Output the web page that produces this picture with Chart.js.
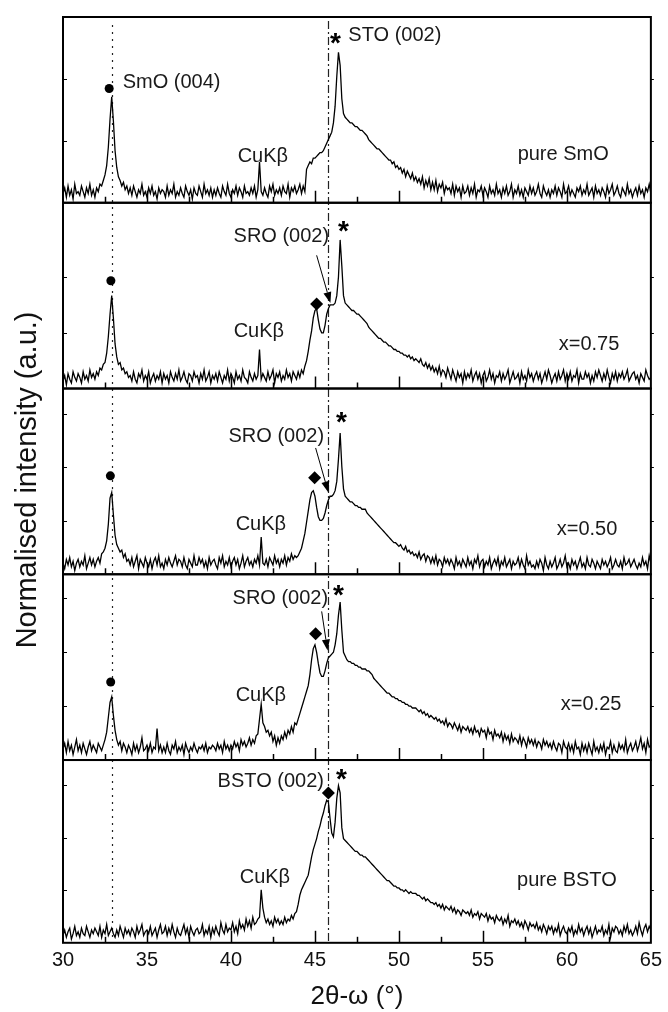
<!DOCTYPE html>
<html><head><meta charset="utf-8">
<script src="https://cdn.jsdelivr.net/npm/chart.js@4.4.0/dist/chart.umd.min.js"></script>
<style>html,body{margin:0;padding:0;background:#fff;}canvas{display:block;}</style>
</head><body>
<canvas id="c" width="668" height="1012"></canvas>
<script>
// 2theta scan grid
const scanStart = 30.0, scanStep = 0.1;

// Normalised intensity (% of panel height), one value per 0.1 deg, 30.0 .. 65.0
const pureSmO = [
5,8,3,9,4,7,2,10,5,6,
4,9,6,3,8,5,10,4,7,3,
8,6,10,9,12,15,20,30,45,57,
44,28,19,14,12,9,11,7,9,5,
8,4,9,6,3,7,5,10,4,6,
3,8,5,9,4,6,2,8,5,7,
6,3,9,4,7,5,10,3,6,4,
8,5,3,9,6,4,7,2,8,5,
4,9,6,3,10,5,7,4,8,3,
7,4,8,5,3,9,6,4,10,5,
3,7,5,9,4,8,6,3,9,5,
6,4,8,5,9,3,7,22,6,4,
8,5,3,9,6,10,4,7,5,8,
4,9,6,5,10,3,8,6,9,5,
7,10,5,9,6,18,20,22,21,24,
24,25,26,27,27,28,30,32,34,36,
38,43,52,68,81,74,56,48,46,45,
44,43,43,42,41,41,40,39,39,38,
37,36,34,33,32,31,30,29,29,28,
27,26,25,24,23,23,21,22,19,20,
18,19,16,18,14,17,15,13,16,12,
14,11,13,10,14,8,12,9,13,7,
11,7,12,6,10,8,11,5,9,7,
8,5,10,4,9,6,8,3,9,5,
6,9,4,8,5,10,3,7,6,9,
4,8,6,3,9,5,7,4,10,5,
7,3,8,5,9,4,6,10,3,7,
5,9,4,7,3,8,6,4,9,5,
8,4,6,10,5,3,9,6,4,7,
3,7,5,9,4,8,6,3,10,5,
6,9,4,7,5,3,8,6,9,4,
7,5,10,4,6,8,3,9,5,7,
4,8,6,3,9,5,7,10,4,6,
9,5,3,8,6,4,10,5,7,3,
6,8,4,9,5,7,3,8,6,10,
5];
const x075 = [
4,7,2,8,5,3,9,6,4,8,
6,3,9,5,7,4,10,6,8,5,
9,7,11,10,13,14,19,28,40,50,
38,24,17,13,14,10,11,8,9,6,
7,4,9,5,3,8,6,10,4,7,
5,9,3,6,8,4,7,5,9,3,
8,5,7,3,9,6,4,8,5,10,
4,6,9,5,3,8,7,4,9,6,
7,3,8,5,10,4,6,9,3,7,
5,8,4,9,6,3,7,5,10,4,
8,6,3,9,5,7,4,10,6,5,
3,9,6,4,8,5,7,21,5,8,
6,4,9,5,7,10,3,8,6,9,
4,7,5,10,6,8,4,9,7,5,
9,6,10,8,12,15,20,26,31,38,
42,43,37,32,30,30,34,40,43,45,
45,45,46,50,60,80,66,50,46,45,
44,43,42,42,41,40,40,39,38,37,
36,35,33,32,31,30,29,28,27,27,
26,25,25,24,23,23,22,21,21,20,
20,19,19,18,18,17,18,16,17,15,
16,15,14,16,13,12,14,11,13,10,
12,9,11,8,12,7,10,9,6,11,
8,5,10,7,4,9,6,8,3,9,
5,8,6,10,4,7,9,5,8,3,
7,9,4,6,10,5,8,3,7,6,
9,4,8,5,7,10,3,6,9,5,
6,8,3,9,5,7,4,10,6,8,
4,7,9,5,8,3,6,9,5,10,
7,3,6,8,4,9,5,7,10,4,
8,5,9,4,7,6,10,3,8,5,
5,9,6,8,3,7,4,9,6,10,
7,4,8,5,10,6,3,8,5,9,
4,8,6,9,5,7,10,4,6,8,
9,5,7,3,8,6,4,10,7,5,
6];
const x050 = [
6,3,8,5,9,4,7,2,6,8,
4,7,5,10,3,6,9,5,8,4,
7,9,6,11,12,14,18,27,41,44,
32,21,16,14,12,13,9,11,7,8,
5,9,4,7,10,3,8,6,4,9,
6,4,8,3,7,9,5,10,4,6,
3,8,5,9,6,4,7,10,5,8,
7,4,9,5,3,8,6,4,10,5,
5,9,6,8,4,7,3,9,5,7,
8,5,3,9,6,10,4,7,5,9,
4,7,9,5,8,3,6,10,4,7,
9,5,7,4,8,6,10,5,20,6,
5,8,4,9,7,5,10,6,8,4,
8,6,10,5,9,7,11,8,10,9,
10,12,14,18,22,28,34,40,44,45,
42,36,31,29,29,30,33,37,40,42,
42,43,45,50,62,76,58,46,42,41,
40,39,39,38,37,37,36,36,35,35,
35,33,32,31,30,29,28,27,26,25,
24,23,22,21,20,19,18,17,17,16,
15,16,14,13,15,12,13,11,12,10,
11,9,12,8,10,11,7,10,9,6,
9,6,10,5,8,7,4,9,6,8,
5,8,6,3,9,5,7,4,8,6,
4,9,5,7,3,8,6,10,4,7,
8,4,7,5,9,3,6,8,5,9,
3,7,5,9,4,6,8,3,7,5,
6,9,4,8,5,3,10,5,7,4,
5,3,7,4,8,6,2,9,5,3,
7,4,6,9,3,5,8,4,6,10,
4,6,3,8,5,7,3,6,9,4,
6,3,9,5,4,8,6,3,7,5,
3,8,5,7,4,6,9,3,5,8,
5,4,7,3,9,5,6,8,4,6,
8,5,3,6,4,9,5,7,3,10,
6];
const x025 = [
6,9,4,10,5,8,3,7,11,5,
8,4,9,6,3,7,10,5,8,6,
4,9,7,5,8,11,15,23,31,34,
24,16,11,8,10,5,9,7,4,8,
6,3,9,5,8,4,7,12,5,6,
8,5,9,4,7,6,17,5,8,4,
7,4,9,5,3,8,6,10,4,7,
5,8,3,9,6,4,7,5,9,6,
4,7,6,8,5,9,4,7,6,8,
7,5,9,6,8,4,10,6,8,5,
8,6,10,7,9,5,11,8,10,7,
9,12,8,11,9,13,14,22,30,20,
18,15,16,13,15,10,13,8,12,9,
13,11,15,12,16,14,18,15,20,19,
22,25,28,31,34,37,40,46,54,60,
62,58,52,47,45,45,48,52,55,56,
57,58,62,68,78,85,70,58,56,54,
53,53,52,52,51,51,50,50,49,49,
49,48,48,47,46,44,43,42,41,40,
39,38,37,36,36,35,34,34,33,33,
32,32,31,31,30,30,29,29,28,28,
28,27,26,27,25,26,24,25,23,24,
23,22,23,21,22,20,21,19,22,18,
20,19,17,20,18,16,19,15,18,17,
16,18,15,17,14,18,15,16,13,17,
15,16,12,17,14,15,11,16,13,14,
12,15,10,14,11,13,9,14,10,12,
11,9,13,8,12,10,7,12,9,11,
8,11,7,10,9,6,11,8,10,7,
9,6,10,7,5,9,8,4,10,7,
6,9,5,8,4,10,6,7,3,9,
5,8,4,9,6,3,10,5,7,4,
8,5,9,3,7,6,10,4,8,5,
4,9,6,8,5,11,4,7,9,5,
7,10,5,8,12,6,9,4,11,7,
8];
const pureBSTO = [
4,7,3,6,8,2,5,9,4,6,
3,8,5,4,9,6,3,7,5,8,
6,4,9,3,7,5,10,4,6,8,
5,3,7,4,9,6,3,8,5,7,
4,8,6,3,9,5,7,10,4,6,
7,5,9,4,6,8,3,7,10,5,
6,9,4,8,5,10,6,3,8,5,
4,7,10,5,8,3,9,6,4,7,
8,5,6,10,4,7,5,9,3,8,
5,9,6,4,11,7,5,10,6,8,
7,11,6,9,5,12,8,10,7,13,
9,12,8,14,10,11,13,14,29,19,
14,11,13,10,12,9,14,11,13,10,
12,10,14,11,13,12,15,13,16,17,
21,26,29,31,33,35,37,42,47,51,
54,57,61,64,68,71,75,78,77,68,
60,58,66,79,86,82,63,57,56,55,
54,53,52,51,50,50,49,48,48,47,
47,46,45,44,43,42,41,40,39,38,
37,36,35,34,34,33,32,31,31,30,
30,29,29,28,29,28,27,28,27,27,
27,26,26,25,24,25,23,24,23,22,
22,21,22,20,21,19,21,18,20,19,
18,20,17,19,16,18,17,15,18,17,
16,17,15,18,14,16,15,17,13,16,
15,14,16,12,15,13,14,11,15,13,
12,14,10,13,11,15,9,12,11,13,
10,12,9,11,8,12,10,7,11,9,
10,8,11,7,9,6,10,8,5,9,
7,9,5,8,6,10,4,7,9,6,
5,8,6,9,4,7,5,10,6,8,
4,7,9,5,8,3,6,9,5,7,
6,9,4,7,5,10,3,8,6,9,
8,5,7,4,9,6,10,5,7,4,
6,9,5,11,7,4,8,10,6,9,
7];

const panelNames = ['pure SmO', 'x=0.75', 'x=0.50', 'x=0.25', 'pure BSTO'];
const xTickLabels = [30, 35, 40, 45, 50, 55, 60, 65];
// peak markers [2theta, intensity %]
const smoDot = [[32.75, 61.5], [32.85, 58], [32.82, 53], [32.84, 42], null];
const sroDiamond = [null, [45.1, 45.5], [44.98, 52], [45.04, 68], [45.8, 82]];
const stoStar = [[46.22, 89], [46.7, 88], [46.58, 85], [46.4, 92], [46.58, 93]];
const refLineSmO = 32.9;
const refLineSTO = 45.8;

// annotations
const labels = [
  {p: 0, t: 'SmO (004)', x: 33.55, y: 65, a: 'left'},
  {p: 0, t: 'STO (002)', x: 46.99, y: 90, a: 'left'},
  {p: 0, t: 'CuKβ', x: 41.9, y: 25, a: 'center'},
  {p: 1, t: 'SRO (002)', x: 43.0, y: 82, a: 'center'},
  {p: 1, t: 'CuKβ', x: 41.66, y: 30.5, a: 'center'},
  {p: 2, t: 'SRO (002)', x: 42.7, y: 74, a: 'center'},
  {p: 2, t: 'CuKβ', x: 41.78, y: 27, a: 'center'},
  {p: 3, t: 'SRO (002)', x: 42.94, y: 87, a: 'center'},
  {p: 3, t: 'CuKβ', x: 41.78, y: 35, a: 'center'},
  {p: 4, t: 'BSTO (002)', x: 42.37, y: 88, a: 'center'},
  {p: 4, t: 'CuKβ', x: 42.02, y: 36, a: 'center'}
];
const nameLabelPos = [[59.78, 26], [61.32, 23.5], [61.2, 24], [61.44, 30], [60.0, 34]];
const arrows = [
  {p: 1, from: [45.1, 71.7], to: [45.92, 46]},
  {p: 2, from: [45.04, 68], to: [45.8, 44]},
  {p: 3, from: [45.4, 80], to: [45.75, 59]}
];

const panelIds = ['p1', 'p2', 'p3', 'p4', 'p5'];
const panelWeights = [187, 187, 187, 187, 184];
const yStep = [100 / 6, 15, 14.4, 14.5, 14.4];
const FONT = 'Arial, "Liberation Sans", sans-serif';

const series = [pureSmO, x075, x050, x025, pureBSTO];
const datasets = series.map((vals, i) => ({
  type: 'line', label: panelNames[i], yAxisID: panelIds[i],
  data: vals.map((v, k) => ({x: Math.round((scanStart + k * scanStep) * 100) / 100, y: v})),
  borderColor: '#000', borderWidth: 1.3, pointRadius: 0, tension: 0, fill: false
}));
smoDot.forEach((m, i) => { if (m) datasets.push({type: 'scatter', yAxisID: panelIds[i], data: [{x: m[0], y: m[1]}],
  pointStyle: 'circle', pointRadius: 4.5, backgroundColor: '#000', borderColor: '#000', borderWidth: 0}); });
sroDiamond.forEach((m, i) => { if (m) datasets.push({type: 'scatter', yAxisID: panelIds[i], data: [{x: m[0], y: m[1]}],
  pointStyle: 'rectRot', pointRadius: 6.5, backgroundColor: '#000', borderColor: '#000', borderWidth: 0}); });

const scales = {
  x: {type: 'linear', position: 'bottom', min: 30, max: 65,
    afterBuildTicks: s => { s.ticks = xTickLabels.map(v => ({value: v})); },
    ticks: {color: '#111', font: {size: 20, family: FONT}, padding: 6, maxRotation: 0, autoSkip: false},
    grid: {display: false, drawTicks: false}, border: {display: false},
    title: {display: true, text: '2θ-ω (°)', color: '#111', font: {size: 26, family: FONT}, padding: {top: 2, bottom: 0}}}
};
panelIds.forEach((id, i) => {
  scales[id] = {type: 'linear', position: 'left', stack: 'panels', stackWeight: panelWeights[i], weight: 5 - i,
    min: 0, max: 100, display: false, ticks: {stepSize: yStep[i]}, grid: {display: false}};
});

function line(ctx, x1, y1, x2, y2) { ctx.beginPath(); ctx.moveTo(x1, y1); ctx.lineTo(x2, y2); ctx.stroke(); }

const decor = {
  id: 'decor',
  beforeDatasetsDraw(chart) {
    const ctx = chart.ctx, xs = chart.scales.x, ca = chart.chartArea;
    ctx.save();
    ctx.strokeStyle = '#222'; ctx.lineWidth = 1.2;
    ctx.setLineDash([2, 5]);
    let xp = Math.round(xs.getPixelForValue(refLineSmO)) + 0.5;
    line(ctx, xp, ca.top + 8, xp, ca.bottom);
    ctx.setLineDash([8, 3, 2, 3]);
    xp = Math.round(xs.getPixelForValue(refLineSTO)) + 0.5;
    line(ctx, xp, ca.top + 4, xp, ca.bottom);
    ctx.restore();
  },
  afterDatasetsDraw(chart) {
    const ctx = chart.ctx, xs = chart.scales.x, ca = chart.chartArea;
    ctx.save();
    ctx.strokeStyle = '#000'; ctx.fillStyle = '#000';
    panelIds.forEach((id, i) => {
      const ys = chart.scales[id];
      // x ticks along the panel bottom
      ctx.lineWidth = 1.5;
      for (let v = 32.5; v < 65; v += 2.5) {
        const px = Math.round(xs.getPixelForValue(v)) + 0.5;
        const major = Math.abs(v % 5) < 0.01;
        line(ctx, px, ys.bottom, px, ys.bottom - (major ? 12 : 6));
      }
      // y ticks
      ctx.lineWidth = 1;
      ys.ticks.forEach(t => {
        if (t.value <= 0.5 || t.value >= 99.5) return;
        const py = Math.round(ys.getPixelForValue(t.value)) + 0.5;
        line(ctx, ca.left, py, ca.left + 4, py);
        line(ctx, ca.right, py, ca.right + 3, py);
      });
      ctx.lineWidth = 2;
      ctx.strokeRect(ca.left, ys.top, ca.right - ca.left, ys.bottom - ys.top);
    });
    // arrows
    ctx.lineWidth = 1;
    arrows.forEach(a => {
      const ys = chart.scales[panelIds[a.p]];
      const x1 = xs.getPixelForValue(a.from[0]), y1 = ys.getPixelForValue(a.from[1]);
      const x2 = xs.getPixelForValue(a.to[0]), y2 = ys.getPixelForValue(a.to[1]);
      const ang = Math.atan2(y2 - y1, x2 - x1);
      const L = 11, W = 4;
      const bx = x2 - L * Math.cos(ang), by = y2 - L * Math.sin(ang);
      line(ctx, x1, y1, bx, by);
      ctx.beginPath();
      ctx.moveTo(x2, y2);
      ctx.lineTo(bx + W * Math.sin(ang), by - W * Math.cos(ang));
      ctx.lineTo(bx - W * Math.sin(ang), by + W * Math.cos(ang));
      ctx.closePath(); ctx.fill();
    });
    // text labels
    ctx.fillStyle = '#1a1a1a';
    ctx.font = '20px ' + FONT;
    ctx.textBaseline = 'middle';
    labels.forEach(l => {
      const ys = chart.scales[panelIds[l.p]];
      ctx.textAlign = l.a;
      ctx.fillText(l.t, xs.getPixelForValue(l.x), ys.getPixelForValue(l.y));
    });
    ctx.textAlign = 'center';
    nameLabelPos.forEach((pos, i) => {
      const ys = chart.scales[panelIds[i]];
      ctx.fillText(panelNames[i], xs.getPixelForValue(pos[0]), ys.getPixelForValue(pos[1]));
    });
    // asterisks
    ctx.fillStyle = '#000';
    ctx.font = 'bold 28px ' + FONT;
    ctx.textBaseline = 'alphabetic';
    stoStar.forEach((s, i) => {
      const ys = chart.scales[panelIds[i]];
      ctx.fillText('*', xs.getPixelForValue(s[0]), ys.getPixelForValue(s[1]) + 15);
    });
    // y title
    ctx.fillStyle = '#111';
    ctx.font = '29px ' + FONT;
    ctx.textBaseline = 'middle';
    ctx.translate(28, (ca.top + ca.bottom) / 2);
    ctx.rotate(-Math.PI / 2);
    ctx.fillText('Normalised intensity (a.u.)', 0, 0);
    ctx.restore();
  }
};

new Chart(document.getElementById('c'), {
  data: {datasets},
  options: {
    responsive: false, devicePixelRatio: 1, animation: false,
    layout: {padding: {left: 63, right: 14, top: 17, bottom: 0}},
    plugins: {legend: {display: false}, tooltip: {enabled: false}},
    scales
  },
  plugins: [decor]
});
</script>
</body></html>
